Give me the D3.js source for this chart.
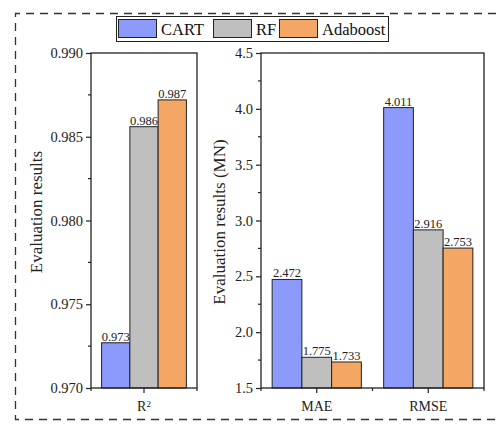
<!DOCTYPE html>
<html>
<head>
<meta charset="utf-8">
<script src="https://cdn.jsdelivr.net/npm/d3@7"></script>
<style>
  body { margin: 0; background: #fff; }
  svg text { font-family: "Liberation Serif", "Times New Roman", serif; }
</style>
</head>
<body>
<svg id="chart" width="496" height="427"></svg>
<script>
const models = ['CART', 'RF', 'Adaboost'];
const colors = ['#8c9afc', '#bfbfbf', '#f4a664'];

const r2Metrics = ['R2'];
const r2Values = { R2: [0.9727, 0.9856, 0.9872] };
const r2Labels = { R2: ['0.973', '0.986', '0.987'] };
const r2Ticks = [0.970, 0.975, 0.980, 0.985, 0.990];

const errMetrics = ['MAE', 'RMSE'];
const errValues = { MAE: [2.472, 1.775, 1.733], RMSE: [4.011, 2.916, 2.753] };
const errTicks = [1.5, 2.0, 2.5, 3.0, 3.5, 4.0, 4.5];

const FONT = 'Liberation Serif';
const svg = d3.select('#chart').attr('font-family', FONT);

// dashed outer frame (open on the right)
svg.append('path')
    .attr('d', 'M496,13.5 H15.5 V419.5 H496')
    .attr('fill', 'none')
    .attr('stroke', '#333')
    .attr('stroke-width', 1.3)
    .attr('stroke-dasharray', '8,6');

function drawPanel(opts) {
    const { x0, x1, y0, y1, categories, values, labels, domain, ticks, fmt, title, titleX, titleY } = opts;
    const g = svg.append('g');

    const x = d3.scaleBand().domain(categories).range([x0, x1]).padding(0);
    const y = d3.scaleLinear().domain(domain).range([y1, y0]);
    const inner = d3.scaleBand().domain(models)
        .range([0, x.bandwidth() * 0.8]);

    // bars
    categories.forEach(cat => {
        const gx = x(cat) + x.bandwidth() * 0.1;
        models.forEach((m, i) => {
            const v = values[cat][i];
            g.append('rect')
                .attr('x', gx + inner(m))
                .attr('y', y(v))
                .attr('width', inner.bandwidth())
                .attr('height', y(domain[0]) - y(v))
                .attr('fill', colors[i])
                .attr('stroke', '#222')
                .attr('stroke-width', 1);
            g.append('text')
                .attr('x', gx + inner(m) + inner.bandwidth() / 2)
                .attr('y', y(v) - 2)
                .attr('text-anchor', 'middle')
                .attr('font-family', FONT)
                .attr('font-size', 12.5)
                .attr('fill', '#222')
                .text(labels ? labels[cat][i] : v.toFixed(3));
        });
    });

    // y axis major ticks
    const yAxis = d3.axisLeft(y).tickValues(ticks).tickFormat(fmt).tickSize(5).tickPadding(3);
    const ya = g.append('g').attr('transform', `translate(${x0},0)`).call(yAxis)
        .attr('font-family', FONT);
    ya.select('.domain').remove();
    ya.selectAll('text').attr('font-size', 14.5).attr('fill', '#222');
    ya.selectAll('line').attr('stroke', '#222').attr('stroke-width', 1.2);

    // y minor ticks
    const minor = d3.pairs(ticks).map(([a, b]) => (a + b) / 2);
    g.selectAll('.yminor').data(minor).enter().append('line')
        .attr('x1', x0 - 3).attr('x2', x0)
        .attr('y1', d => y(d)).attr('y2', d => y(d))
        .attr('stroke', '#222').attr('stroke-width', 1.2);

    // x axis ticks
    const xa = g.append('g').attr('transform', `translate(0,${y1})`)
        .call(d3.axisBottom(x).tickSize(5).tickPadding(8))
        .attr('font-family', FONT);
    xa.select('.domain').remove();
    xa.selectAll('line').attr('stroke', '#222').attr('stroke-width', 1.2);
    xa.selectAll('text').attr('font-size', 14).attr('fill', '#222');

    // x minor ticks at band edges
    const edges = categories.map(c => x(c)).concat([x1]);
    g.selectAll('.xminor').data(edges).enter().append('line')
        .attr('x1', d => d).attr('x2', d => d)
        .attr('y1', y1).attr('y2', y1 + 3)
        .attr('stroke', '#222').attr('stroke-width', 1.2);

    // frame
    g.append('rect')
        .attr('x', x0).attr('y', y0)
        .attr('width', x1 - x0).attr('height', y1 - y0)
        .attr('fill', 'none').attr('stroke', '#222').attr('stroke-width', 1.3);

    g.append('text')
        .attr('transform', `translate(${titleX},${titleY}) rotate(-90)`)
        .attr('text-anchor', 'middle')
        .attr('dy', '0.35em')
        .attr('font-family', FONT)
        .attr('font-size', 17)
        .attr('fill', '#222')
        .text(title);

    return xa;
}

const xaLeft = drawPanel({
    x0: 91, x1: 197, y0: 53, y1: 388,
    categories: r2Metrics, values: r2Values, labels: r2Labels,
    domain: [0.970, 0.990], ticks: r2Ticks, fmt: d3.format('.3f'),
    title: 'Evaluation results', titleX: 36, titleY: 212
});
// R² label with superscript
xaLeft.selectAll('text').text(null)
    .call(t => {
        t.append('tspan').text('R');
        t.append('tspan').attr('dy', '-0.45em').attr('font-size', 9).text('2');
    });

drawPanel({
    x0: 261, x1: 484, y0: 53, y1: 388,
    categories: errMetrics, values: errValues, labels: null,
    domain: [1.5, 4.5], ticks: errTicks, fmt: d3.format('.1f'),
    title: 'Evaluation results (MN)', titleX: 219, titleY: 222
});

// legend
const legend = svg.append('g');
legend.append('rect')
    .attr('x', 116.5).attr('y', 16.5).attr('width', 272).attr('height', 25)
    .attr('fill', '#fff').attr('stroke', '#222').attr('stroke-width', 1);
const legendX = [118, 213, 279];
models.forEach((m, i) => {
    legend.append('rect')
        .attr('x', legendX[i] + 0.5).attr('y', 19.5)
        .attr('width', 38).attr('height', 18)
        .attr('fill', colors[i]).attr('stroke', '#222').attr('stroke-width', 1);
    legend.append('text')
        .attr('x', legendX[i] + 43).attr('y', 35)
        .attr('font-family', FONT)
        .attr('font-size', 16.5).attr('fill', '#111')
        .text(m);
});
</script>
</body>
</html>
